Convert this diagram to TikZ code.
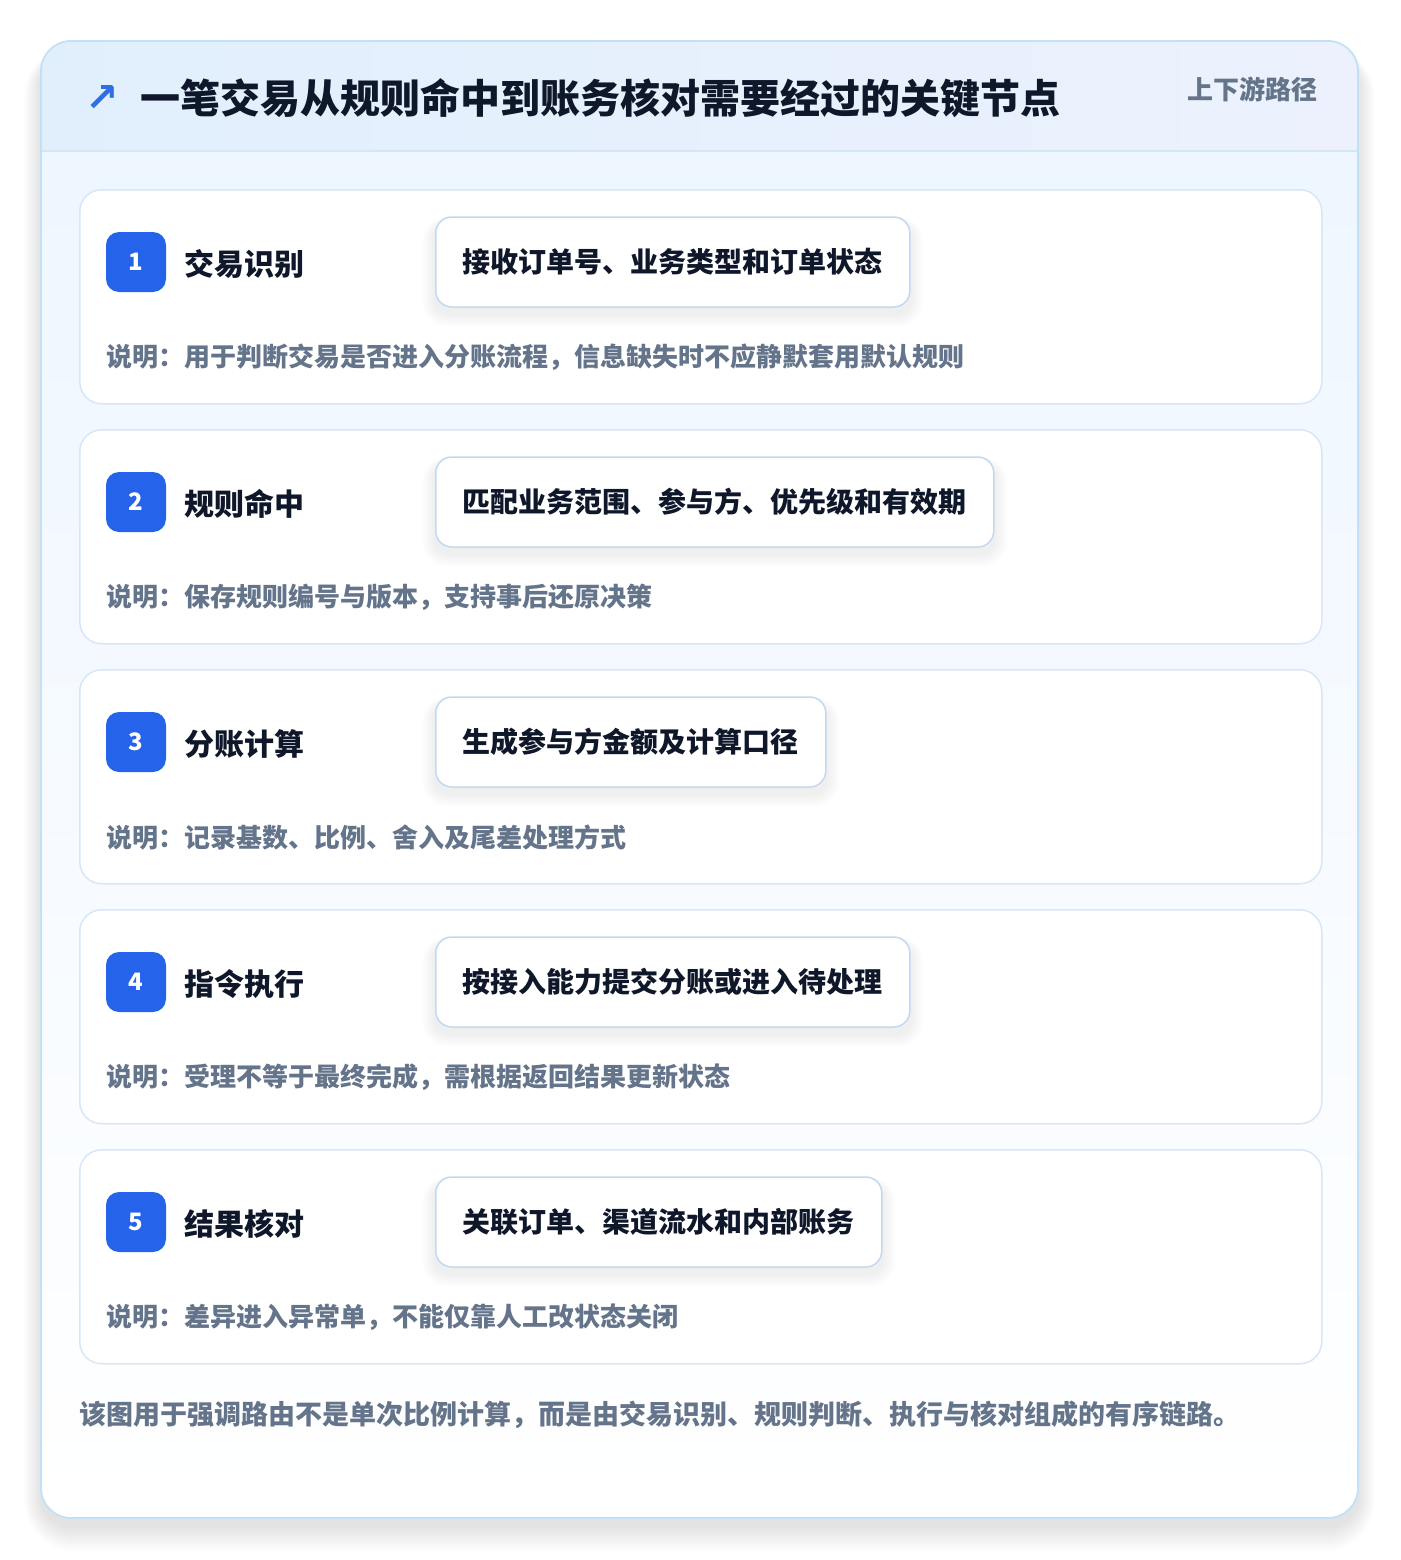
\documentclass[tikz,border=0pt]{standalone}
\usepackage{fontspec}
\setmainfont{Noto Sans CJK SC}
\newfontfamily\symfont{DejaVu Sans}
\usetikzlibrary{calc}
\definecolor{outerborder}{HTML}{C3E1F6}
\definecolor{cardborder}{HTML}{D8E7F8}
\definecolor{pillborder}{HTML}{C2D8F3}
\definecolor{headleft}{HTML}{E1EFFD}
\definecolor{headright}{HTML}{ECF1FD}
\definecolor{bodytop}{HTML}{EEF6FF}
\definecolor{headline}{HTML}{D5E6F7}
\definecolor{badge}{HTML}{2563EB}
\definecolor{ink}{HTML}{0F172A}
\definecolor{muted}{HTML}{64748B}
\definecolor{arrowblue}{HTML}{2F6EE6}
\definecolor{shadowcol}{HTML}{334155}
\pgfdeclarelayer{back}
\pgfdeclarelayer{shade}
\pgfsetlayers{back,shade,main}
\tikzset{
  card/.style={draw=cardborder, line width=1.5pt, fill=white, rounded corners=22pt, minimum width=1242pt, minimum height=214pt, inner sep=0pt},
  pill/.style={draw=pillborder, line width=1.5pt, fill=white, rounded corners=16pt, minimum height=90pt, inner xsep=27pt, inner ysep=0pt, text=ink, font=\fontsize{28}{34}\selectfont\bfseries},
  badgebox/.style={fill=badge, rounded corners=13pt, minimum size=60pt, inner sep=0pt, text=white, font=\fontsize{24}{28}\selectfont\bfseries},
  steptitle/.style={text=ink, font=\fontsize{30}{36}\selectfont\bfseries, inner sep=0pt},
  desc/.style={text=muted, font=\fontsize{26}{32}\selectfont\bfseries, inner sep=0pt},
}
\begin{document}
\begin{tikzpicture}[x=1pt,y=-1pt]
\useasboundingbox (0,0) rectangle (1400,1560);
\begin{pgfonlayer}{back}
\fill[white] (0,0) rectangle (1400,1560);
% soft shadow of the outer card
\foreach \k in {1,...,14}{
  \fill[shadowcol, opacity=0.007, rounded corners=30pt+\k*1.5pt] (41-\k*1.2,41+14-\k*0.6) rectangle (1358+\k*1.2,1518+8+\k*1.8);
}
\begin{scope}
  \clip[rounded corners=30pt] (41,41) rectangle (1358,1518);
  \shade[top color=bodytop, bottom color=white] (41,151) rectangle (1358,1518);
  \shade[left color=headleft, right color=headright] (41,41) rectangle (1358,151);
\end{scope}
\draw[headline, line width=1.5pt] (41,151) -- (1358,151);
\draw[outerborder, line width=1.8pt, rounded corners=30pt] (41,41) rectangle (1358,1518);
\end{pgfonlayer}
% header
\node[text=arrowblue, font=\symfont\bfseries\fontsize{40}{44}\selectfont, inner sep=0pt] (icon) at (102,99) {↗};
\node[anchor=west, text=ink, font=\fontsize{40}{48}\selectfont\bfseries, inner sep=0pt] (title) at (140,98) {一笔交易从规则命中到账务核对需要经过的关键节点};
\node[anchor=east, text=muted, font=\fontsize{26}{32}\selectfont\bfseries, inner sep=0pt] (tag) at (1318,89) {上下游路径};
% cards
\foreach \i/\t/\p/\d in {
  1/交易识别/接收订单号、业务类型和订单状态/说明：用于判断交易是否进入分账流程，信息缺失时不应静默套用默认规则,
  2/规则命中/匹配业务范围、参与方、优先级和有效期/说明：保存规则编号与版本，支持事后还原决策,
  3/分账计算/生成参与方金额及计算口径/说明：记录基数、比例、舍入及尾差处理方式,
  4/指令执行/按接入能力提交分账或进入待处理/说明：受理不等于最终完成，需根据返回结果更新状态,
  5/结果核对/关联订单、渠道流水和内部账务/说明：差异进入异常单，不能仅靠人工改状态关闭}{
  \pgfmathsetmacro\yy{189+(\i-1)*240}
  \begin{pgfonlayer}{back}
    \node[card, anchor=north west] (c\i) at (79,\yy) {};
  \end{pgfonlayer}
  \node[badgebox] (b\i) at (136,\yy+73) {\i};
  \node[steptitle, anchor=west] (t\i) at (184,\yy+75) {\t};
  \node[pill, anchor=west] (p\i) at (435,\yy+73) {\p};
  \node[desc, anchor=west] (d\i) at (106,\yy+168) {\d};
  \begin{pgfonlayer}{shade}
    \foreach \k in {1,...,8}{
      \fill[shadowcol, opacity=0.009, rounded corners=16pt+\k*1pt] ($(p\i.north west)+(-\k*1.6,6-\k*0.6)$) rectangle ($(p\i.south east)+(\k*1.6,6+\k*1.6)$);
    }
  \end{pgfonlayer}
}
% footer
\node[anchor=west, text=muted, font=\fontsize{27}{32}\selectfont\bfseries, inner sep=0pt] (foot) at (79,1415) {该图用于强调路由不是单次比例计算，而是由交易识别、规则判断、执行与核对组成的有序链路。};
\end{tikzpicture}
\end{document}
